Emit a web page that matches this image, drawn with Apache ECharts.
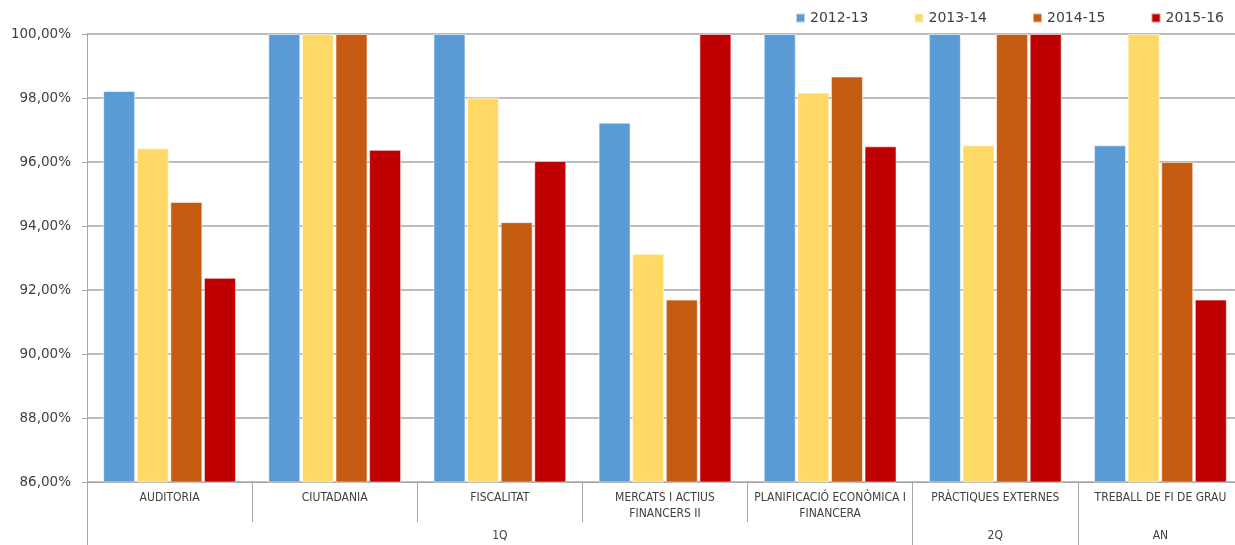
<!DOCTYPE html>
<html>
<head>
<meta charset="utf-8">
<script src="https://cdn.jsdelivr.net/npm/echarts@6/dist/echarts.min.js"></script>
<style>html,body{margin:0;padding:0;background:#fff;overflow:hidden}#c{width:1243px;height:545px}</style>
</head>
<body>
<div id="c"></div>
<script>
const categories = ['AUDITORIA', 'CIUTADANIA', 'FISCALITAT', 'MERCATS I ACTIUS\nFINANCERS II', 'PLANIFICACIÓ ECONÒMICA I\nFINANCERA', 'PRÀCTIQUES EXTERNES', 'TREBALL DE FI DE GRAU'];
const groupLabels = ['', '', '1Q', '', '', '2Q', 'AN'];
const groupStarts = [0, 5, 6];
const seriesNames = ['2012-13', '2013-14', '2014-15', '2015-16'];
const s2012 = [98.22, 100, 100, 97.23, 100, 100, 96.52];
const s2013 = [96.43, 100, 98.01, 93.13, 98.17, 96.52, 100];
const s2014 = [94.75, 100, 94.12, 91.70, 98.67, 100, 96.00];
const s2015 = [92.38, 96.38, 96.03, 100, 96.49, 100, 91.70];
const colors = ['#5B9BD5', '#FFD966', '#C55A11', '#C00000'];

const chart = echarts.init(document.getElementById('c'));
const seriesData = [s2012, s2013, s2014, s2015];
chart.setOption({
  animation: false,
  color: colors,
  legend: {
    left: 790, top: 6,
    itemWidth: 9, itemHeight: 9, itemGap: 45,
    icon: 'rect',
    textStyle: { fontFamily: 'DejaVu Sans', fontSize: 14, color: '#404040' },
    data: seriesNames
  },
  grid: { left: 87, top: 34, right: 0, bottom: 63, containLabel: false },
  xAxis: [{
    type: 'category', data: categories, gridIndex: 0, position: 'bottom',
    axisLine: { show: true, lineStyle: { color: '#A6A6A6', width: 1 } },
    axisTick: { show: true, interval: 0, length: 40, lineStyle: { color: '#A6A6A6' } },
    axisLabel: { interval: 0, margin: 8, fontFamily: 'DejaVu Sans Condensed', fontSize: 12, lineHeight: 16, color: '#404040' },
    splitLine: { show: false }
  }, {
    type: 'category', data: groupLabels, gridIndex: 0, position: 'bottom', offset: 40,
    axisLine: { show: false },
    axisTick: { show: true, length: 24, interval: (i) => groupStarts.includes(i), lineStyle: { color: '#A6A6A6' } },
    axisLabel: { interval: 0, margin: 8, fontFamily: 'DejaVu Sans Condensed', fontSize: 12, color: '#404040' },
    splitLine: { show: false }
  }],
  yAxis: {
    type: 'value', min: 86, max: 100, interval: 2,
    axisLine: { show: true, lineStyle: { color: '#A6A6A6' } },
    axisTick: { show: true, length: 5, lineStyle: { color: '#A6A6A6' } },
    axisLabel: { margin: 16, fontFamily: 'DejaVu Sans', fontSize: 13.5, color: '#404040',
      formatter: v => v.toFixed(2).replace('.', ',') + '%' },
    splitLine: { show: true, lineStyle: { color: '#A6A6A6', width: 1.5 } }
  },
  series: seriesData.map((d, i) => ({
    name: seriesNames[i], type: 'bar', data: d, xAxisIndex: 0,
    barWidth: 32, barGap: '5%',
    itemStyle: { color: colors[i], borderColor: 'rgba(255,255,255,0.55)', borderWidth: 1 }
  }))
});
</script>
</body>
</html>
